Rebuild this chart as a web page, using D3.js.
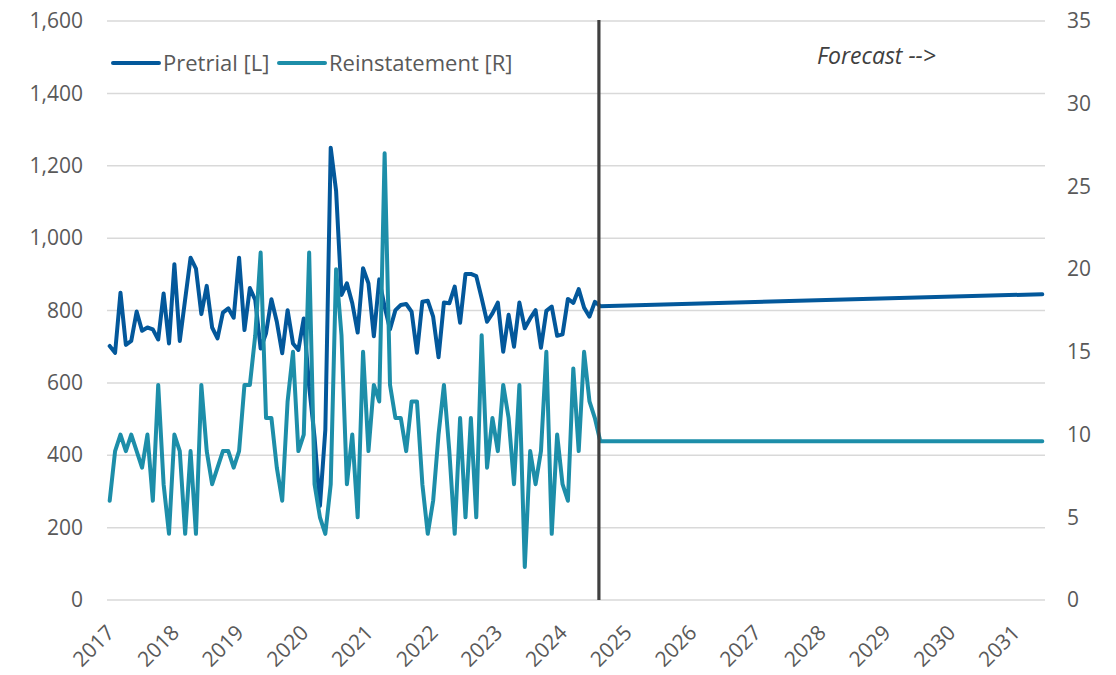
<!DOCTYPE html>
<html>
<head>
<meta charset="utf-8">
<script src="https://cdn.jsdelivr.net/npm/d3@7"></script>
<style>
  html, body { margin: 0; padding: 0; background: #ffffff; }
  svg { display: block; font-family: "Open Sans", "Liberation Sans", sans-serif; }
</style>
</head>
<body>
<svg id="chart" width="1116" height="675"></svg>
<script>
// ---- Data (monthly, starting Jan 2017) ----
const startYear = 2017;
const pretrial = [
  702, 683, 849, 705, 716, 797, 744, 753, 748, 720, 847, 709,
  928, 716, 831, 946, 916, 790, 868, 753, 723, 794, 806, 780,
  946, 746, 862, 829, 695, 737, 831, 769, 682, 801, 709, 691,
  778, 590, 450, 260, 470, 1250, 1130, 843, 875, 820, 739, 917,
  875, 729, 886, 810, 748, 801, 815, 818, 797, 683, 824, 827,
  783, 671, 822, 820, 866, 766, 901, 901, 895, 834, 769, 792,
  822, 686, 788, 700, 822, 751, 778, 801, 697, 799, 811, 730,
  734, 832, 821, 859, 808, 783, 824
];
const reinstatement = [
  6, 9, 10, 9, 10, 9, 8, 10, 6, 13, 7, 4,
  10, 9, 4, 9, 4, 13, 9, 7, 8, 9, 9, 8,
  9, 13, 13, 16, 21, 11, 11, 8, 6, 12, 15, 9,
  10, 21, 7, 5, 4, 7, 20, 16, 7, 10, 5, 15,
  9, 13, 12, 27, 13, 11, 11, 9, 12, 12, 7, 4,
  6, 10, 13, 9, 4, 11, 5, 11, 5, 16, 8, 11,
  9, 13, 11, 7, 13, 2, 9, 7, 9, 15, 4, 10,
  7, 6, 14, 9, 15, 12, 11
];
// Forecast (straight lines in the reference: start and end points)
const forecastDates = ["2024-08", "2031-06"];
const pretrialForecast = [812, 845];
const reinstatementForecast = [9.6, 9.6];
const forecastStart = "2024-08";
const yearLabels = ["2017","2018","2019","2020","2021","2022","2023","2024",
                    "2025","2026","2027","2028","2029","2030","2031"];
const leftTicks = [0, 200, 400, 600, 800, 1000, 1200, 1400, 1600];
const rightTicks = [0, 5, 10, 15, 20, 25, 30, 35];
const seriesNames = ["Pretrial [L]", "Reinstatement [R]"];
const forecastLabel = "Forecast -->";

// ---- helpers ----
const monthIndex = s => { const [y, m] = s.split("-").map(Number); return (y - startYear) * 12 + (m - 1); };
const lastIndex = monthIndex(forecastDates[forecastDates.length - 1]);

const svg = d3.select("#chart");
const plot = { left: 107, right: 1045, top: 21, bottom: 600 };

const x = d3.scaleLinear().domain([-0.5, lastIndex + 0.5]).range([plot.left, plot.right]);
const yL = d3.scaleLinear().domain([0, 1600]).range([plot.bottom, plot.top]);
const yR = d3.scaleLinear().domain([0, 35]).range([plot.bottom, plot.top]);

const colPre = "#03589b";
const colRe = "#1d8ea9";
const textCol = "#595959";

// gridlines
svg.append("g").selectAll("line").data(leftTicks).join("line")
  .attr("x1", plot.left).attr("x2", plot.right)
  .attr("y1", d => yL(d)).attr("y2", d => yL(d))
  .attr("stroke", "#d9d9d9").attr("stroke-width", 1.5);

// left axis
const axL = svg.append("g").attr("transform", `translate(${plot.left - 24},0)`)
  .call(d3.axisLeft(yL).tickValues(leftTicks).tickFormat(d3.format(",")).tickSize(0).tickPadding(0));
axL.select(".domain").remove();
axL.selectAll("text").attr("fill", textCol).style("font-size", "21px").attr("font-family", "Open Sans");

// right axis
const axR = svg.append("g").attr("transform", `translate(${plot.right + 22},0)`)
  .call(d3.axisRight(yR).tickValues(rightTicks).tickSize(0).tickPadding(0));
axR.select(".domain").remove();
axR.selectAll("text").attr("fill", textCol).style("font-size", "21px").attr("font-family", "Open Sans");

// x labels (rotated)
svg.append("g").selectAll("text").data(yearLabels).join("text")
  .attr("transform", (d, i) => `translate(${x(i * 12) + 6},${634}) rotate(-45)`)
  .attr("text-anchor", "end")
  .attr("fill", textCol)
  .style("font-size", "21px")
  .text(d => d);

// lines
const histPre = pretrial.map((v, i) => [i, v]);
const histRe = reinstatement.map((v, i) => [i, v]);
const fcPre = forecastDates.map((d, i) => [monthIndex(d), pretrialForecast[i]]);
const fcRe = forecastDates.map((d, i) => [monthIndex(d), reinstatementForecast[i]]);

const lineL = d3.line().x(d => x(d[0])).y(d => yL(d[1]));
const lineR = d3.line().x(d => x(d[0])).y(d => yR(d[1]));

svg.append("path").datum(histPre.concat(fcPre)).attr("d", lineL)
  .attr("fill", "none").attr("stroke", colPre).attr("stroke-width", 4)
  .attr("stroke-linejoin", "round").attr("stroke-linecap", "round");
svg.append("path").datum(histRe.concat(fcRe)).attr("d", lineR)
  .attr("fill", "none").attr("stroke", colRe).attr("stroke-width", 4)
  .attr("stroke-linejoin", "round").attr("stroke-linecap", "round");

// forecast divider
const divX = x(monthIndex(forecastStart) - 0.25);
svg.append("line").attr("x1", divX).attr("x2", divX)
  .attr("y1", plot.top - 1).attr("y2", plot.bottom)
  .attr("stroke", "#404040").attr("stroke-width", 3.2);

svg.append("text").attr("x", 817).attr("y", 64)
  .attr("fill", "#404040").style("font-size", "23px").style("font-style", "italic")
  .text(forecastLabel);

// legend
const legend = svg.append("g");
const legItems = [
  { name: seriesNames[0], color: colPre, x0: 113 },
  { name: seriesNames[1], color: colRe, x0: 279 }
];
legItems.forEach(it => {
  legend.append("line").attr("x1", it.x0).attr("x2", it.x0 + 46).attr("y1", 63).attr("y2", 63)
    .attr("stroke", it.color).attr("stroke-width", 4).attr("stroke-linecap", "round");
  legend.append("text").attr("x", it.x0 + 50).attr("y", 63).attr("dy", "0.35em")
    .attr("fill", textCol).style("font-size", "22px").text(it.name);
});
</script>
</body>
</html>
